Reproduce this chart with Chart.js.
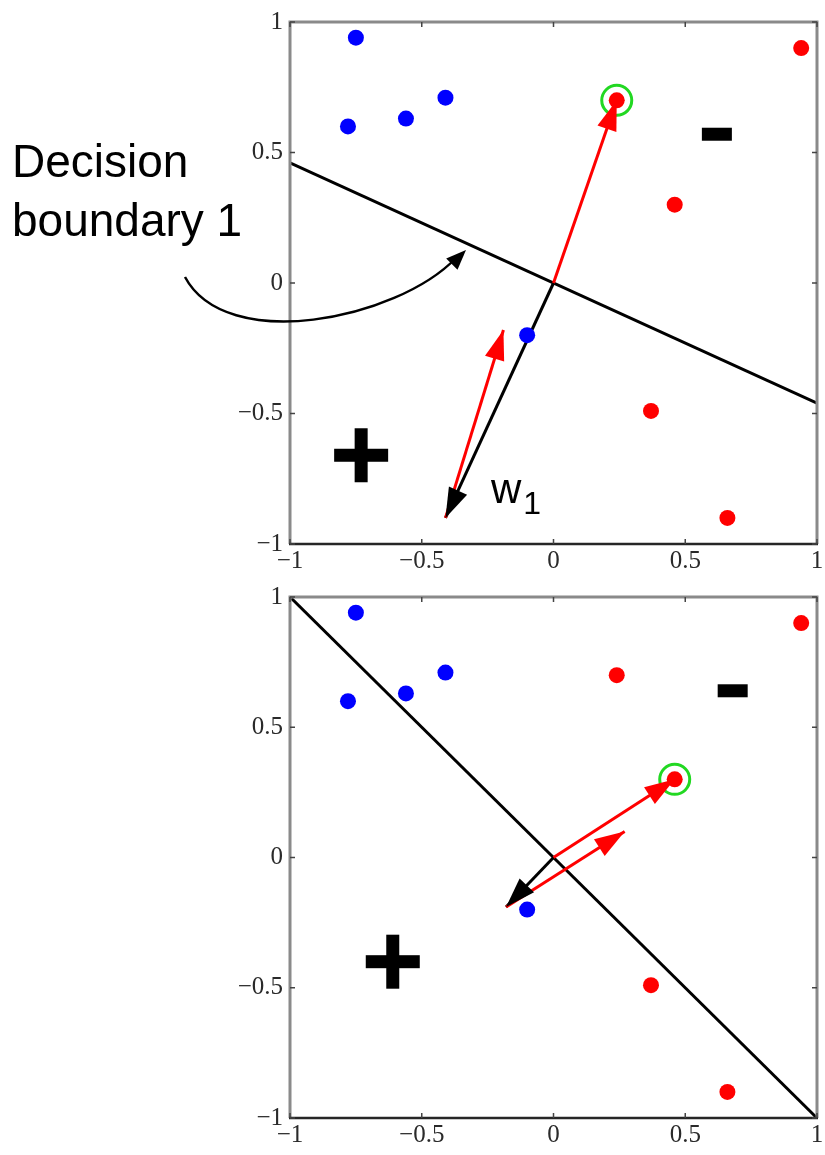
<!DOCTYPE html>
<html>
<head>
<meta charset="utf-8">
<title>Perceptron update</title>
<script src="https://cdn.jsdelivr.net/npm/chart.js@4/dist/chart.umd.min.js"></script>
<style>
  body { margin: 0; background: #fff; width: 825px; height: 1155px; position: relative; overflow: hidden; }
  canvas { position: absolute; left: 0; }
  .note { position: absolute; color: #000; white-space: nowrap; font-family: "Liberation Sans", Arial, sans-serif; }
</style>
</head>
<body>
<canvas id="topPanel" width="835" height="575" style="top:0;width:835px;height:575px"></canvas>
<canvas id="bottomPanel" width="835" height="580" style="top:575px;width:835px;height:580px"></canvas>
<div class="note" style="left:12px;top:132px;font-size:46px;line-height:59px">Decision<br>boundary 1</div>
<div class="note" style="left:491px;top:468px;font-size:42px;line-height:42px">w<span style="font-size:32px;position:relative;top:11px;margin-left:2px">1</span></div>
<script>
// axis ticks
const tickValues = [-1, -0.5, 0, 0.5, 1];
const tickLabels = ["\u22121", "\u22120.5", "0", "0.5", "1"];

// training points (same in both panels)
const blueX = [-0.75, -0.78, -0.56, -0.41, -0.10];
const blueY = [0.94, 0.60, 0.63, 0.71, -0.20];
const redX = [0.94, 0.24, 0.46, 0.37, 0.66];
const redY = [0.90, 0.70, 0.30, -0.49, -0.90];

const origin = [0, 0];

// top panel: boundary 1, weight w1, misclassified point and the update
const boundary1X = [-1, 1];
const boundary1Y = [0.46, -0.46];
const weight1 = [-0.41, -0.90];
const update1 = [-0.19, -0.18];
const picked1 = 1;
const plus1 = [-0.73, -0.66];
const minus1 = [0.62, 0.57];

// bottom panel: boundary 2 after the first update
const boundary2X = [-1, 1];
const boundary2Y = [1, -1];
const weight2 = [-0.18, -0.19];
const update2 = [0.27, 0.10];
const picked2 = 2;
const plus2 = [-0.61, -0.40];
const minus2 = [0.68, 0.64];

const RED = "#ff0000";
const BLUE = "#0000ff";
const GREEN = "#22d822";

function pts(xs, ys) {
    return xs.map((x, i) => ({ x: x, y: ys[i] }));
}

function seg(a, b) {
    return [{ x: a[0], y: a[1] }, { x: b[0], y: b[1] }];
}

function drawHead(ctx, from, to, color, len, half) {
    const ang = Math.atan2(to.y - from.y, to.x - from.x);
    ctx.save();
    ctx.translate(to.x, to.y);
    ctx.rotate(ang);
    ctx.fillStyle = color;
    ctx.beginPath();
    ctx.moveTo(0, 0);
    ctx.lineTo(-len, -half);
    ctx.lineTo(-len, half);
    ctx.closePath();
    ctx.fill();
    ctx.restore();
}

// frame, inward ticks, arrow heads and the +/- signs
const framePlugin = {
    id: "frame",
    afterDatasetsDraw(chart) {
        const ctx = chart.ctx;
        const a = chart.chartArea;
        const xs = chart.scales.x;
        const ys = chart.scales.y;
        ctx.save();

        ctx.lineWidth = 3;
        ctx.strokeStyle = "#8a8a8a";
        ctx.beginPath();
        ctx.moveTo(a.left, a.bottom);
        ctx.lineTo(a.left, a.top);
        ctx.lineTo(a.right, a.top);
        ctx.lineTo(a.right, a.bottom);
        ctx.stroke();
        ctx.strokeStyle = "#262626";
        ctx.lineWidth = 2.5;
        ctx.beginPath();
        ctx.moveTo(a.left - 1, a.bottom);
        ctx.lineTo(a.right + 1, a.bottom);
        ctx.stroke();

        ctx.lineWidth = 1.5;
        ctx.strokeStyle = "#444";
        tickValues.forEach((v) => {
            const px = xs.getPixelForValue(v);
            const py = ys.getPixelForValue(v);
            ctx.beginPath();
            ctx.moveTo(px, a.bottom); ctx.lineTo(px, a.bottom - 5);
            ctx.moveTo(px, a.top); ctx.lineTo(px, a.top + 5);
            ctx.moveTo(a.left, py); ctx.lineTo(a.left + 5, py);
            ctx.moveTo(a.right, py); ctx.lineTo(a.right - 5, py);
            ctx.stroke();
        });

        chart.data.datasets.forEach((ds, i) => {
            if (!ds.arrow) return;
            const meta = chart.getDatasetMeta(i);
            drawHead(ctx, meta.data[0], meta.data[1], ds.borderColor, 30, 10);
        });

        const opts = chart.options.plugins.frame;
        ctx.fillStyle = "#000";
        const p = opts.plus, m = opts.minus;
        const cx = xs.getPixelForValue(p[0]), cy = ys.getPixelForValue(p[1]);
        ctx.fillRect(cx - 27, cy - 6.5, 54, 13);
        ctx.fillRect(cx - 6.5, cy - 27, 13, 54);
        const mx = xs.getPixelForValue(m[0]), my = ys.getPixelForValue(m[1]);
        ctx.fillRect(mx - 15, my - 6.5, 30, 13);

        if (opts.callout) {
            // curved pointer from the "Decision boundary 1" label to the line
            ctx.strokeStyle = "#000";
            ctx.lineWidth = 2.5;
            ctx.beginPath();
            ctx.moveTo(185, 277);
            ctx.bezierCurveTo(226, 354, 396, 320, 456, 258);
            ctx.stroke();
            drawHead(ctx, { x: 396, y: 320 }, { x: 466, y: 250 }, "#000", 20, 8);
        }
        ctx.restore();
    }
};

function makePanel(id, cfg) {
    const axisFont = { family: '"Liberation Serif", "Times New Roman", serif', size: 25 };
    const fixTicks = (s) => { s.ticks = tickValues.map((v) => ({ value: v })); };
    const fmt = (v) => tickLabels[tickValues.indexOf(v)];

    return new Chart(document.getElementById(id), {
        type: "scatter",
        data: {
            datasets: [
                { data: pts(blueX, blueY), backgroundColor: BLUE, borderWidth: 0, pointRadius: 8, order: 1 },
                { data: pts(redX, redY), backgroundColor: RED, borderWidth: 0, pointRadius: 8, order: 1 },
                { data: [{ x: redX[cfg.picked], y: redY[cfg.picked] }], backgroundColor: "rgba(0,0,0,0)",
                  borderColor: GREEN, borderWidth: 3, pointRadius: 15, order: 0 },
                { data: pts(cfg.boundaryX, cfg.boundaryY), showLine: true, borderColor: "#000",
                  borderWidth: 3, pointRadius: 0, order: 5 },
                { data: seg(origin, [redX[cfg.picked], redY[cfg.picked]]), showLine: true, arrow: true,
                  borderColor: RED, borderWidth: 3, pointRadius: 0, order: 3 },
                { data: seg(origin, cfg.weight), showLine: true, arrow: true,
                  borderColor: "#000", borderWidth: 3, pointRadius: 0, order: 4 },
                { data: seg(cfg.weight, cfg.update), showLine: true, arrow: true,
                  borderColor: RED, borderWidth: 3, pointRadius: 0, order: 2 }
            ]
        },
        options: {
            responsive: false,
            animation: false,
            events: [],
            layout: { padding: cfg.padding },
            scales: {
                x: {
                    type: "linear", min: -1, max: 1,
                    afterBuildTicks: fixTicks,
                    afterFit: (s) => { s.height = 30; },
                    grid: { display: false, drawTicks: false },
                    border: { display: false },
                    ticks: { callback: fmt, font: axisFont, color: "#2a2a2a", padding: 2, maxRotation: 0, autoSkip: false }
                },
                y: {
                    type: "linear", min: -1, max: 1,
                    afterBuildTicks: fixTicks,
                    afterFit: (s) => { s.width = 70; },
                    grid: { display: false, drawTicks: false },
                    border: { display: false },
                    ticks: { callback: fmt, font: axisFont, color: "#2a2a2a", padding: 7, autoSkip: false }
                }
            },
            plugins: {
                legend: { display: false },
                tooltip: { enabled: false },
                frame: { plus: cfg.plus, minus: cfg.minus, callout: cfg.callout }
            }
        },
        plugins: [framePlugin]
    });
}

makePanel("topPanel", {
    boundaryX: boundary1X, boundaryY: boundary1Y, weight: weight1, update: update1,
    picked: picked1, plus: plus1, minus: minus1, callout: true,
    padding: { left: 220, right: 0, top: 19, bottom: 1 }
});

makePanel("bottomPanel", {
    boundaryX: boundary2X, boundaryY: boundary2Y, weight: weight2, update: update2,
    picked: picked2, plus: plus2, minus: minus2, callout: false,
    padding: { left: 220, right: 0, top: 13, bottom: 7 }
});
</script>
</body>
</html>
